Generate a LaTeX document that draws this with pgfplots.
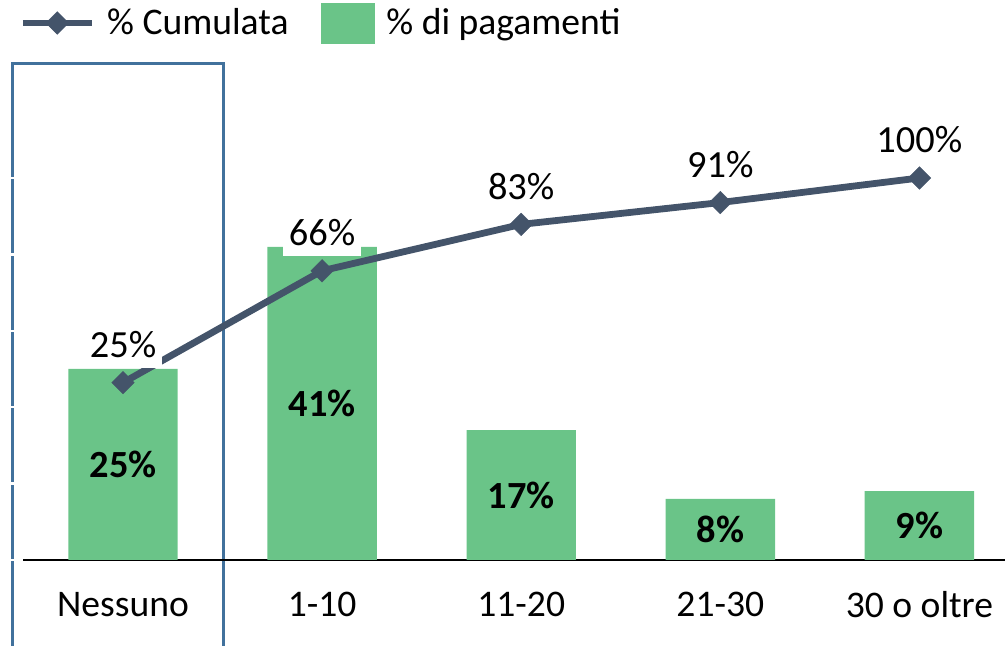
\documentclass[border=0pt]{standalone}
\usepackage{pgfplots}
\usepackage{pgfplotstable}
\pgfplotsset{compat=1.18}
\usepackage{fontspec}
\setmainfont{Carlito}

\definecolor{barGreen}{RGB}{106,196,136}
\definecolor{lineSlate}{RGB}{68,84,106}
\definecolor{boxBlue}{RGB}{65,113,156}

% per-category share of payments
\pgfplotstableread{
x share
0 25
1 41
2 17
3 8
4 9
}\sharetable
% cumulative share
\pgfplotstableread{
x cum
0 25
1 66
2 83
3 91
4 100
}\cumtable

\newcommand{\basefont}{\fontsize{18.8}{22}\selectfont}
\newcommand{\labelfont}{\fontsize{19.2}{22}\selectfont}

\pgfplotsset{
  twinframe/.style={
    at={(11.725pt,43pt)}, anchor=south west,
    scale only axis, width=497.75pt, height=191pt,
    xmin=-0.5, xmax=4.5, clip=false,
    font=\basefont,
    /pgf/number format/assume math mode=true,
    /pgf/number format/fixed, /pgf/number format/precision=0,
  },
  cumlegend/.style={
    legend image code/.code={
      \draw[##1, mark repeat=2, mark phase=2]
        plot coordinates {(0pt,0pt) (17.25pt,0pt) (34.5pt,0pt)};
    }
  },
  barlegend/.style={
    legend image code/.code={
      \fill[barGreen] (0pt,-10pt) rectangle (26.5pt,10pt);
    }
  },
}

\begin{document}
\begin{tikzpicture}
% frame around the "Nessuno" group
\draw[boxBlue, line width=1.3pt]
  (6.35pt,-5pt) -- (6.35pt,291.35pt) -- (111.75pt,291.35pt) -- (111.75pt,-5pt);

% bars: share of payments
\begin{axis}[twinframe,
  ymin=0, ymax=50,
  axis x line*=bottom, axis y line*=left,
  x axis line style={black, line width=1.3pt, -},
  y axis line style={draw=none},
  xtick={0,1,2,3,4},
  xticklabels={Nessuno,1-10,11-20,21-30,30 o oltre},
  x tick style={draw=none},
  xticklabel style={anchor=center, yshift=-16pt},
  ytick={0,10,20,30,40,50}, yticklabels={},
  y tick style={white, line width=1.2pt},
  tick align=outside, major tick length=6.25pt,
]
\addplot[ybar, bar width=54.7pt, fill=barGreen, draw=none,
  visualization depends on=y \as \rawy,
  nodes near coords={\pgfmathprintnumber{\pgfplotspointmeta}\%},
  nodes near coords style={anchor=center, font=\labelfont\bfseries,
    shift={(axis direction cs:0,-\rawy/2)}},
] table[x=x, y=share] {\sharetable};
\end{axis}

% line: cumulative share
\begin{axis}[twinframe,
  ymin=-40, ymax=100,
  hide axis,
  legend columns=2,
  legend style={at={(axis description cs:-0.0045,1.4058)}, anchor=west,
    draw=none, fill=none, inner sep=0pt,
    nodes={inner sep=0pt, anchor=west},
    /tikz/every odd column/.append style={column sep=6pt},
    /tikz/every even column/.append style={column sep=16pt},
    /tikz/column 1/.append style={column sep=-3.5pt},
    font=\basefont},
]
\addplot[lineSlate, line width=3.4pt, mark=square*,
  mark size=4pt, mark options={solid, rotate=45, line width=0.2pt},
  nodes near coords={\pgfmathprintnumber{\pgfplotspointmeta}\%},
  nodes near coords style={anchor=center, yshift=19pt, text=black,
    font=\labelfont, fill=white, inner xsep=3pt, inner ysep=5pt},
  cumlegend,
] table[x=x, y=cum] {\cumtable};
\addlegendentry{\% Cumulata}
\addlegendimage{barlegend}
\addlegendentry{\% di pagamenti}
\end{axis}

\pgfresetboundingbox
\useasboundingbox (0pt,0pt) rectangle (502.5pt,323pt);
\end{tikzpicture}
\end{document}
